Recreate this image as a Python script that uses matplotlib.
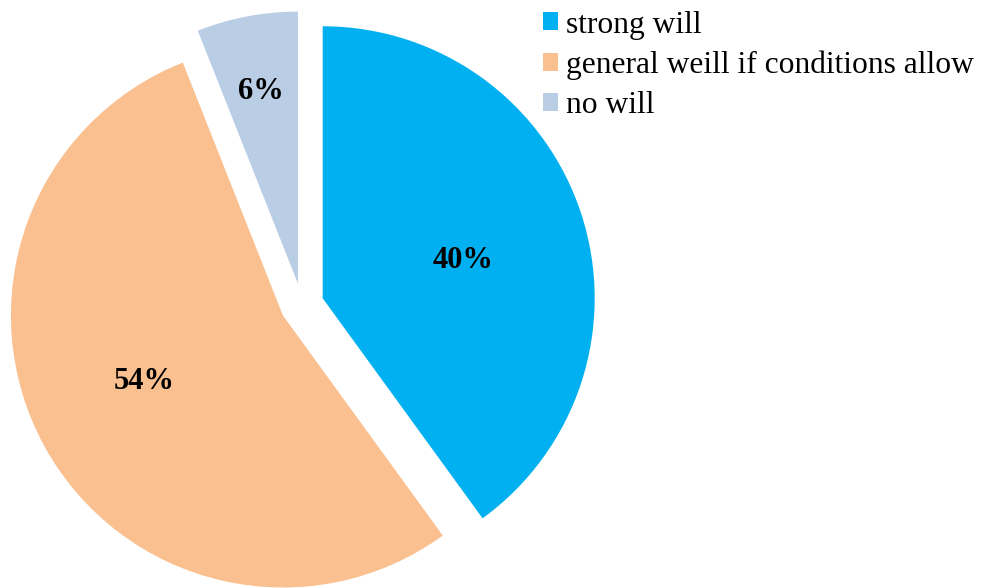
import numpy as np
import matplotlib.pyplot as plt

categories = ["strong will", "general weill if conditions allow", "no will"]
shares = [40, 54, 6]
colors = ["#00B0F0", "#FAC090", "#B9CDE5"]
# label placement inside each wedge: distance from apex, angle shift (deg)
label_dist = [0.535, 0.565, 0.72]
label_shift = [-3, -3.5, 0]

plt.rcParams["font.family"] = ["Liberation Serif", "DejaVu Serif"]

W, H = 984, 588
fig = plt.figure(figsize=(W / 100, H / 100), dpi=100)

# pie centre and radius in pixels
cx, cy, r = 302, 305, 272
lim = 1.2
size = 2 * lim * r
ax = fig.add_axes([(cx - size / 2) / W, (H - cy - size / 2) / H, size / W, size / H])

wedges, texts, autotexts = ax.pie(
    shares, colors=colors, explode=[0.08] * 3, startangle=90,
    counterclock=False, radius=1, autopct="%d%%", pctdistance=0.55,
    textprops=dict(fontsize=22, fontweight="bold", color="black"),
    wedgeprops=dict(linewidth=0),
)
# pie() resets the limits, so set them afterwards
ax.set_xlim(-lim, lim)
ax.set_ylim(-lim, lim)
ax.axis("off")

for w, t, d, s in zip(wedges, autotexts, label_dist, label_shift):
    ang = np.deg2rad((w.theta1 + w.theta2) / 2 + s)
    x0, y0 = w.center
    t.set_position((x0 + d * np.cos(ang), y0 + d * np.sin(ang)))

fig.legend(wedges, categories, loc="upper left", bbox_to_anchor=(530 / W, 1.0 + 2 / H),
           frameon=False, fontsize=22.7, handlelength=0.5, handleheight=0.5,
           handletextpad=0.25, labelspacing=0.35, borderaxespad=0)

fig.savefig("out.png", dpi=100)
